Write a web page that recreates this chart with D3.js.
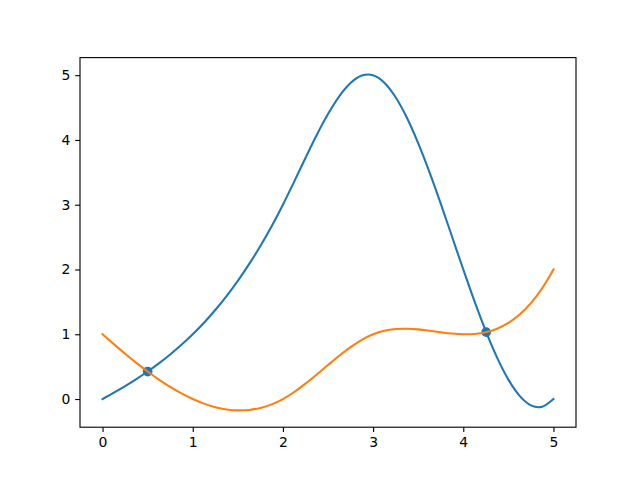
<!DOCTYPE html>
<html><head><meta charset="utf-8">
<script src="https://cdn.jsdelivr.net/npm/d3@7"></script>
<style>body{margin:0;background:#fff}svg{display:block}text{font-family:"DejaVu Sans",sans-serif}</style>
</head><body><svg id="c" width="640" height="480"></svg>
<script>
const xValues = [0,0.125,0.25,0.375,0.5,0.625,0.75,0.875,1,1.125,1.25,1.375,1.5,1.625,1.75,1.875,2,2.125,2.25,2.375,2.5,2.625,2.75,2.875,3,3.125,3.25,3.375,3.5,3.625,3.75,3.875,4,4.125,4.25,4.375,4.5,4.625,4.75,4.875,5];
const blueValues = [0,0.0977,0.2,0.3086,0.425,0.5508,0.6875,0.8367,1,1.1789,1.375,1.5898,1.825,2.082,2.3625,2.668,3,3.3566,3.722,4.0762,4.4,4.6738,4.878,4.9934,5,4.8848,4.659,4.3418,3.95,3.502,3.016,2.509,2,1.5066,1.047,0.6387,0.3,0.0488,-0.097,-0.1191,0];
const orangeValues = [1,0.8477,0.7,0.5586,0.425,0.3008,0.1875,0.0867,0,-0.0711,-0.125,-0.1602,-0.175,-0.168,-0.1375,-0.082,0,0.1086,0.2375,0.3789,0.525,0.668,0.8,0.9133,1,1.0547,1.081,1.0859,1.075,1.0547,1.031,1.0109,1,1.0047,1.031,1.0859,1.175,1.3047,1.481,1.7109,2];
const crossX = [0.5, 4.254];
const crossY = [0.425, 1.033];
const xTicks = [0,1,2,3,4,5];
const yTicks = [0,1,2,3,4,5];

const svg = d3.select("#c");
const L=80, R=576, T=57.6, B=427.2;
const x = d3.scaleLinear().domain([-0.25,5.25]).range([L,R]);
const yMin=-0.1754, yMax=5.0119, pad=(yMax-yMin)*0.05;
const y = d3.scaleLinear().domain([yMin-pad,yMax+pad]).range([B,T]);

const line = d3.line().x((d,i)=>x(xValues[i])).y(d=>y(d)).curve(d3.curveCatmullRom.alpha(0));

const g = svg.append("g");
g.append("g").selectAll("circle").data(crossX).join("circle")
  .attr("cx",d=>x(d)).attr("cy",(d,i)=>y(crossY[i])).attr("r",4.17)
  .attr("fill","#1f77b4").attr("stroke","#1f77b4").attr("stroke-width",1.4);
g.append("path").datum(blueValues).attr("d",line).attr("fill","none").attr("stroke","#1f77b4").attr("stroke-width",2.08).attr("stroke-linecap","square").attr("stroke-linejoin","round");
g.append("path").datum(orangeValues).attr("d",line).attr("fill","none").attr("stroke","#ff7f0e").attr("stroke-width",2.08).attr("stroke-linecap","square").attr("stroke-linejoin","round");

const xAxis = d3.axisBottom(x).tickValues(xTicks).tickSize(4.86).tickPadding(4.86).tickFormat(d3.format("d"));
const yAxis = d3.axisLeft(y).tickValues(yTicks).tickSize(4.86).tickPadding(4.86).tickFormat(d3.format("d"));
const ax = svg.append("g").attr("transform",`translate(0,${B})`).call(xAxis);
const ay = svg.append("g").attr("transform",`translate(${L},0)`).call(yAxis);
[ax,ay].forEach(a=>{
  a.select(".domain").remove();
  a.selectAll(".tick line").attr("stroke","#000").attr("stroke-width",1.11);
  a.selectAll(".tick text").attr("fill","#000").style("font-size","13.9px").style("font-family","DejaVu Sans");
});
svg.append("rect").attr("x",L).attr("y",T).attr("width",R-L).attr("height",B-T)
  .attr("fill","none").attr("stroke","#000").attr("stroke-width",1.11);
</script></body></html>
